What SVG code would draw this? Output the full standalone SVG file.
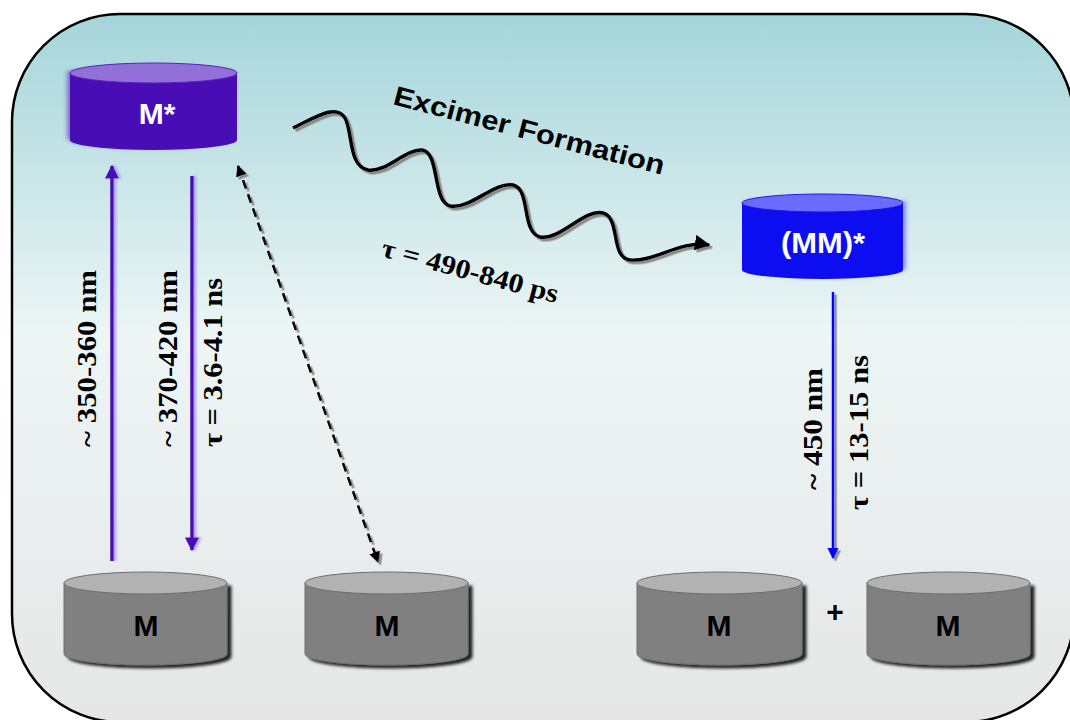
<svg xmlns="http://www.w3.org/2000/svg" width="1070" height="720" viewBox="0 0 1070 720">
  <defs>
    <linearGradient id="bg" x1="0" y1="0" x2="0" y2="1">
      <stop offset="0" stop-color="#a4d5da"/>
      <stop offset="0.45" stop-color="#edf5f5"/>
      <stop offset="1" stop-color="#e6e6e6"/>
    </linearGradient>
    <filter id="dark" x="-10%" y="-10%" width="125%" height="130%">
      <feDropShadow dx="4" dy="3" stdDeviation="1.5" flood-color="#000" flood-opacity="0.85"/>
    </filter>
    <filter id="glowP" x="-10%" y="-20%" width="120%" height="140%">
      <feDropShadow dx="-3" dy="-2" stdDeviation="2" flood-color="#6a3cc8" flood-opacity="0.7"/>
    </filter>
    <filter id="glowB" x="-10%" y="-20%" width="120%" height="140%">
      <feDropShadow dx="3" dy="-2" stdDeviation="2" flood-color="#5050ff" flood-opacity="0.6"/>
    </filter>
    <filter id="lav" x="-50%" y="-5%" width="200%" height="110%">
      <feDropShadow dx="2.5" dy="0" stdDeviation="0.8" flood-color="#a898ff" flood-opacity="0.9"/>
    </filter>
    <filter id="grey" x="-20%" y="-20%" width="140%" height="140%">
      <feDropShadow dx="2.5" dy="2.5" stdDeviation="0.6" flood-color="#808080" flood-opacity="0.9"/>
    </filter>
    <marker id="ahP" viewBox="0 0 10 10" refX="9" refY="5" markerWidth="4" markerHeight="4" orient="auto-start-reverse" markerUnits="strokeWidth">
      <path d="M0,0 L10,5 L0,10 Z" fill="#4a0bb5"/>
    </marker>
    <marker id="ahB" viewBox="0 0 10 10" refX="9" refY="5" markerWidth="4.5" markerHeight="4.5" orient="auto-start-reverse" markerUnits="strokeWidth">
      <path d="M0,0 L10,5 L0,10 Z" fill="#0000ff"/>
    </marker>
    <marker id="ahK" viewBox="0 0 10 10" refX="9" refY="5" markerWidth="4.5" markerHeight="4.5" orient="auto-start-reverse" markerUnits="strokeWidth">
      <path d="M0,0 L10,5 L0,10 Z" fill="#000"/>
    </marker>
    <style>
      .lbl { font-family: "Liberation Serif", "Times New Roman", serif; font-weight: bold; font-size: 27px; fill: #000; }
      .sans { font-family: "Liberation Sans", Arial, sans-serif; }
      .cyl { font-family: "Liberation Sans", Arial, sans-serif; font-weight: bold; font-size: 30px; text-anchor: middle; }
      .gbody { fill: #808080; stroke: #6e6e6e; stroke-width: 1; }
      .gtop { fill: #b2b2b2; stroke: #6e6e6e; stroke-width: 1; }
    </style>
  </defs>

  <!-- panel -->
  <rect x="12" y="14" width="1062" height="708" rx="108" ry="108" fill="url(#bg)" stroke="#000" stroke-width="2.5"/>

  <!-- excited monomer -->
  <g id="node-Mstar">
    <g filter="url(#glowP)">
      <path d="M70,73 L70,140 A83.5,10 0 0 0 237,140 L237,73 Z" fill="#4a0bb5"/>
    </g>
    <ellipse cx="153.5" cy="73" rx="83.5" ry="10" fill="#9370d8" stroke="#5a20c0" stroke-width="1"/>
    <text class="cyl" x="157" y="124" fill="#fff">M*</text>
  </g>

  <!-- excimer -->
  <g id="node-MMstar">
    <g filter="url(#glowB)">
      <path d="M742,203 L742,270 A80.5,9 0 0 0 903,270 L903,203 Z" fill="#0a0af2"/>
    </g>
    <ellipse cx="822.5" cy="203" rx="80.5" ry="9" fill="#6b6bff" stroke="#1a1ae0" stroke-width="1"/>
    <text class="cyl" x="823" y="253" fill="#fff" textLength="84" lengthAdjust="spacingAndGlyphs">(MM)*</text>
  </g>

  <!-- ground-state monomers -->
  <g id="node-M1">
    <path class="gbody" filter="url(#dark)" d="M64,583 L64,654 A81.5,11 0 0 0 227,654 L227,583 Z"/>
    <ellipse class="gtop" cx="145.5" cy="583" rx="81.5" ry="11"/>
    <text class="cyl" x="146" y="636" fill="#000">M</text>
  </g>
  <g id="node-M2">
    <path class="gbody" filter="url(#dark)" d="M305,583 L305,654 A81.5,11 0 0 0 468,654 L468,583 Z"/>
    <ellipse class="gtop" cx="386.5" cy="583" rx="81.5" ry="11"/>
    <text class="cyl" x="387" y="636" fill="#000">M</text>
  </g>
  <g id="node-M3">
    <path class="gbody" filter="url(#dark)" d="M637,583 L637,654 A82.5,11 0 0 0 802,654 L802,583 Z"/>
    <ellipse class="gtop" cx="719.5" cy="583" rx="82.5" ry="11"/>
    <text class="cyl" x="719" y="636" fill="#000">M</text>
  </g>
  <g id="node-M4">
    <path class="gbody" filter="url(#dark)" d="M867,583 L867,654 A81.5,11 0 0 0 1030,654 L1030,583 Z"/>
    <ellipse class="gtop" cx="948.5" cy="583" rx="81.5" ry="11"/>
    <text class="cyl" x="948" y="636" fill="#000">M</text>
  </g>
  <text class="cyl" x="835" y="622" fill="#000">+</text>

  <!-- connectors -->
  <g id="connectors">
    <g filter="url(#lav)">
      <line x1="112" y1="561" x2="112" y2="166" stroke="#4a0bb5" stroke-width="3.5" marker-end="url(#ahP)"/>
      <line x1="192" y1="176" x2="192" y2="550" stroke="#4a0bb5" stroke-width="3.5" marker-end="url(#ahP)"/>
    </g>
    <g filter="url(#grey)">
      <line x1="238" y1="166" x2="378" y2="562" stroke="#000" stroke-width="2.5" stroke-dasharray="9,6" marker-start="url(#ahK)" marker-end="url(#ahK)"/>
      <line x1="833" y1="292" x2="833" y2="558" stroke="#0000ff" stroke-width="2.5" marker-end="url(#ahB)"/>
      <path d="M293,128 C318,116 336,104 345,118 C353,132 348,166 368,170 C386,173 405,149 422,150 C440,152 432,201 450,206 C470,210 495,181 513,185 C531,189 521,232 540,237 C560,241 585,208 603,213 C621,218 610,258 630,260 C655,262 680,240 709,245" fill="none" stroke="#000" stroke-width="3.5" marker-end="url(#ahK)"/>
    </g>
  </g>

  <!-- labels -->
  <text class="lbl sans" transform="translate(392,104) rotate(14.7)" textLength="279" lengthAdjust="spacingAndGlyphs">Excimer Formation</text>
  <text class="lbl" transform="translate(380,256) rotate(15)" textLength="182" lengthAdjust="spacingAndGlyphs">τ = 490-840 ps</text>
  <text class="lbl" transform="translate(96,447) rotate(-90)" textLength="177" lengthAdjust="spacingAndGlyphs">~ 350-360 nm</text>
  <text class="lbl" transform="translate(177,447) rotate(-90)" textLength="177" lengthAdjust="spacingAndGlyphs">~ 370-420 nm</text>
  <text class="lbl" transform="translate(222,447) rotate(-90)" textLength="169" lengthAdjust="spacingAndGlyphs">τ = 3.6-4.1 ns</text>
  <text class="lbl" transform="translate(822,490) rotate(-90)" textLength="122" lengthAdjust="spacingAndGlyphs">~ 450 nm</text>
  <text class="lbl" transform="translate(868,510) rotate(-90)" textLength="155" lengthAdjust="spacingAndGlyphs">τ = 13-15 ns</text>
</svg>
